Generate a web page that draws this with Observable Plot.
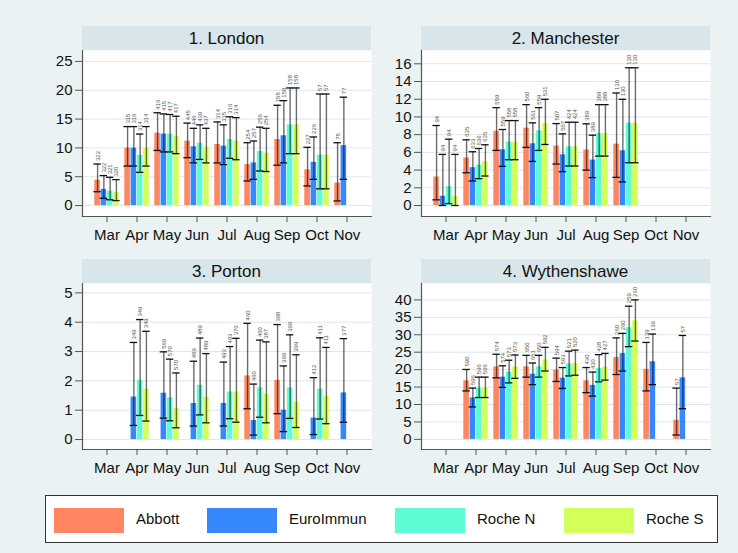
<!DOCTYPE html>
<html>
<head>
<meta charset="utf-8">
<script src="https://cdn.jsdelivr.net/npm/d3@7"></script>
<script src="https://cdn.jsdelivr.net/npm/@observablehq/plot@0.6"></script>
<style>
  html, body { margin: 0; padding: 0; background: #EAF2F3; }
  #chart { position: relative; width: 738px; height: 553px; background: #EAF2F3; font-family: "Liberation Sans", Arial, sans-serif; overflow: hidden; }
  .strip { position: absolute; width: 289px; height: 24px; background: #D8E5EA; text-align: center; line-height: 25px; font-size: 17px; color: #111; }
  .panel { position: absolute; }
  .legend { position: absolute; left: 45px; top: 495px; width: 671px; height: 46px; background: #fff; border: 1.5px solid #333; }
  .sw { position: absolute; top: 12px; width: 70px; height: 25px; }
  .lt { position: absolute; top: 14px; font-size: 15px; color: #111; }
</style>
</head>
<body>
<div id="chart"></div>
<script>
const months = ["Mar", "Apr", "May", "Jun", "Jul", "Aug", "Sep", "Oct", "Nov"];
const assays = ["Abbott", "EuroImmun", "Roche N", "Roche S"];
const colors = ["#FF8660", "#3787FF", "#5EFCD4", "#D3FF59"];

// rows: [month, assay, value, lower CI, upper CI, n]
const london = [
  ["Mar","Abbott",4.4,2.4,7.2,322],["Mar","EuroImmun",2.8,1.27,5.2,322],["Mar","Roche N",2.5,1.0,4.9,321],["Mar","Roche S",2.25,0.86,4.5,320],
  ["Apr","Abbott",9.96,6.85,13.7,315],["Apr","EuroImmun",9.96,6.85,13.7,316],["Apr","Roche N",8.7,5.76,12.4,314],["Apr","Roche S",9.96,6.85,13.7,314],
  ["May","Abbott",12.55,9.56,16.1,416],["May","EuroImmun",12.4,9.3,15.9,415],["May","Roche N",12.4,9.3,15.8,417],["May","Roche S",12.0,9.0,15.5,417],
  ["Jun","Abbott",11.17,8.3,14.3,445],["Jun","EuroImmun",10.2,7.4,13.4,446],["Jun","Roche N",10.8,8.0,14.0,439],["Jun","Roche S",10.1,7.4,13.4,437],
  ["Jul","Abbott",10.6,7.4,14.5,314],["Jul","EuroImmun",10.3,7.1,14.0,315],["Jul","Roche N",11.45,8.2,15.4,316],["Jul","Roche S",11.17,7.95,15.25,314],
  ["Aug","Abbott",7.1,4.26,10.9,254],["Aug","EuroImmun",7.4,4.55,11.2,257],["Aug","Roche N",9.4,6.0,13.6,256],["Aug","Roche S",9.1,5.9,13.4,254],
  ["Sep","Abbott",11.45,7.0,17.4,158],["Sep","EuroImmun",12.1,7.4,18.2,158],["Sep","Roche N",14.0,9.0,20.4,158],["Sep","Roche S",14.0,9.0,20.4,158],
  ["Oct","Abbott",6.2,3.4,10.1,227],["Oct","EuroImmun",7.5,4.55,11.9,226],["Oct","Roche N",8.75,2.9,19.35,57],["Oct","Roche S",8.75,2.9,19.35,57],
  ["Nov","Abbott",3.9,0.8,10.9,78],["Nov","EuroImmun",10.4,4.55,18.8,77]
];
const manchester = [
  ["Mar","Abbott",3.22,0.64,9.03,94],["Mar","EuroImmun",1.05,0,5.77,94],["Mar","Roche N",2.14,0.22,7.49,94],["Mar","Roche S",1.05,0,5.77,94],
  ["Apr","Abbott",5.36,3.7,7.42,635],["Apr","EuroImmun",4.27,2.77,6.07,633],["Apr","Roche N",4.57,3.03,6.44,636],["Apr","Roche S",4.9,3.33,6.86,635],
  ["May","Abbott",8.39,6.22,11.05,559],["May","EuroImmun",6.29,4.42,8.58,559],["May","Roche N",7.16,5.17,9.59,558],["May","Roche S",7.16,5.17,9.59,558],
  ["Jun","Abbott",8.73,6.56,11.39,560],["Jun","EuroImmun",6.97,4.98,9.33,561],["Jun","Roche N",8.43,6.22,11.05,559],["Jun","Roche S",9.25,6.89,11.99,531],
  ["Jul","Abbott",6.71,4.68,9.25,507],["Jul","EuroImmun",5.73,3.82,8.09,507],["Jul","Roche N",6.63,4.46,9.4,424],["Jul","Roche S",6.63,4.46,9.4,424],
  ["Aug","Abbott",6.26,4.0,9.22,389],["Aug","EuroImmun",5.13,3.15,7.94,389],["Aug","Roche N",8.13,5.58,11.39,389],["Aug","Roche S",8.13,5.58,11.39,388],
  ["Sep","Abbott",6.93,3.18,12.7,130],["Sep","EuroImmun",6.18,2.66,11.99,130],["Sep","Roche N",9.29,4.83,15.55,130],["Sep","Roche S",9.29,4.83,15.55,130]
];
const porton = [
  ["Apr","EuroImmun",1.45,0.48,3.31,349],["Apr","Roche N",2.02,0.82,4.09,349],["Apr","Roche S",1.72,0.63,3.69,349],
  ["May","EuroImmun",1.58,0.73,2.99,569],["May","Roche N",1.42,0.64,2.74,570],["May","Roche S",1.06,0.4,2.27,570],
  ["Jun","EuroImmun",1.23,0.46,2.67,489],["Jun","Roche N",1.85,0.84,3.46,489],["Jun","Roche S",1.44,0.57,2.93,489],
  ["Jul","EuroImmun",1.23,0.46,2.64,493],["Jul","Roche N",1.62,0.71,3.17,493],["Jul","Roche S",1.62,0.59,3.45,376],
  ["Aug","Abbott",2.17,1.05,3.96,460],["Aug","EuroImmun",0.65,0.15,1.89,460],["Aug","Roche N",1.76,0.76,3.39,460],["Aug","Roche S",1.54,0.57,3.33,387],
  ["Sep","Abbott",2.02,0.88,3.92,398],["Sep","EuroImmun",1.0,0.27,2.51,399],["Sep","Roche N",1.76,0.72,3.57,399],["Sep","Roche S",1.27,0.41,2.89,399],
  ["Oct","EuroImmun",0.73,0.17,2.11,412],["Oct","Roche N",1.72,0.7,3.47,411],["Oct","Roche S",1.47,0.54,3.14,411],
  ["Nov","EuroImmun",1.59,0.59,3.44,377]
];
const wythenshawe = [
  ["Apr","Abbott",16.8,13.9,20.05,590],["Apr","EuroImmun",11.9,9.3,14.7,596],["Apr","Roche N",14.7,12.0,17.85,596],["Apr","Roche S",14.7,12.0,17.85,596],
  ["May","Abbott",20.8,17.65,24.4,574],["May","EuroImmun",17.85,14.9,21.1,574],["May","Roche N",19.3,16.2,22.7,573],["May","Roche S",20.8,17.5,24.2,573],
  ["Jun","Abbott",20.8,17.85,24.1,650],["Jun","EuroImmun",18.7,15.7,21.9,651],["Jun","Roche N",20.8,17.85,24.1,650],["Jun","Roche S",22.8,19.6,26.4,592],
  ["Jul","Abbott",19.9,16.6,23.3,594],["Jul","EuroImmun",17.55,14.6,20.6,593],["Jul","Roche N",21.6,18.2,25.3,521],["Jul","Roche S",21.8,18.4,25.6,520],
  ["Aug","Abbott",16.8,13.4,20.6,430],["Aug","EuroImmun",15.5,12.4,19.3,430],["Aug","Roche N",20.3,16.5,24.3,428],["Aug","Roche S",20.7,17.0,24.65,427],
  ["Sep","Abbott",23.5,18.6,29.1,260],["Sep","EuroImmun",24.6,19.6,30.4,260],["Sep","Roche N",32.0,26.6,38.2,259],["Sep","Roche S",34.0,28.2,40.0,260],
  ["Oct","Abbott",20.1,13.9,27.8,139],["Oct","EuroImmun",22.25,15.7,30.2,139],
  ["Nov","Abbott",5.47,1.25,14.7,57],["Nov","EuroImmun",17.65,8.8,29.8,57]
];

const londonTicks = [0, 5, 10, 15, 20, 25];
const manchesterTicks = [0, 2, 4, 6, 8, 10, 12, 14, 16];
const portonTicks = [0, 1, 2, 3, 4, 5];
const wythenshaweTicks = [0, 5, 10, 15, 20, 25, 30, 35, 40];

const chart = document.getElementById("chart");
const FW = 289, FH = 166, ML = 45, MR = 6, MB = 36;
const PI = 0.18, PO = 0.312;
const step = FW / (months.length - PI + 2 * PO);
const bw = step * (1 - PI);
const q = bw / 4;
const capIn = (bw - 7.5) / 2;

function panel(rows, title, left, top, yDomain, yTicks) {
  const strip = document.createElement("div");
  strip.className = "strip";
  strip.style.left = left + "px";
  strip.style.top = (top - 24) + "px";
  strip.textContent = title;
  chart.appendChild(strip);

  const marks = [
    Plot.frame({fill: "white", stroke: "none"}),
    Plot.gridY(yTicks, {stroke: "#DDE8EC", strokeOpacity: 1, strokeWidth: 1})
  ];
  assays.forEach((a, k) => {
    const sub = rows.filter(d => d[1] === a);
    const dx = (k - 1.5) * q;
    marks.push(Plot.barY(sub, {x: d => d[0], y: d => d[2], fill: colors[k], dx, insetLeft: (bw - q) / 2 + 0.3, insetRight: (bw - q) / 2 + 0.3}));
  });
  assays.forEach((a, k) => {
    const sub = rows.filter(d => d[1] === a);
    const dx = (k - 1.5) * q;
    marks.push(Plot.ruleX(sub, {x: d => d[0], y1: d => d[3], y2: d => d[4], dx, stroke: "#000", strokeOpacity: 0.58, strokeWidth: 1.4}));
    marks.push(Plot.tickY(sub, {x: d => d[0], y: d => d[3], dx, insetLeft: capIn, insetRight: capIn, stroke: "#111", strokeWidth: 1.3}));
    marks.push(Plot.tickY(sub, {x: d => d[0], y: d => d[4], dx, insetLeft: capIn, insetRight: capIn, stroke: "#111", strokeWidth: 1.3}));
    marks.push(Plot.text(sub, {x: d => d[0], y: d => d[4], text: d => String(d[5]), rotate: -90, textAnchor: "start", lineAnchor: "middle", dx, dy: -3, fontSize: 6, fill: "#555"}));
  });
  marks.push(Plot.axisY(yTicks, {tickSize: 7, tickPadding: 3, fontSize: 15, stroke: "#555", fill: "#111", label: null}));
  marks.push(Plot.axisX({tickSize: 6, tickPadding: 7, fontSize: 15, stroke: "#555", fill: "#111", label: null}));
  marks.push(Plot.frame({anchor: "left", stroke: "#555", strokeWidth: 1.2}));
  marks.push(Plot.frame({anchor: "bottom", stroke: "#555", strokeWidth: 1.2}));

  const svg = Plot.plot({
    width: ML + FW + MR,
    height: FH + MB,
    marginLeft: ML, marginRight: MR, marginTop: 0, marginBottom: MB,
    x: {type: "band", domain: months, paddingInner: PI, paddingOuter: PO, axis: null},
    y: {domain: yDomain, axis: null},
    style: {background: "transparent", fontFamily: "'Liberation Sans', Arial, sans-serif", overflow: "visible"},
    marks
  });
  const wrap = document.createElement("div");
  wrap.className = "panel";
  wrap.style.left = (left - ML) + "px";
  wrap.style.top = top + "px";
  wrap.appendChild(svg);
  chart.appendChild(wrap);
}

panel(london, "1. London", 82, 50, [-1.9, 26.9], londonTicks);
panel(manchester, "2. Manchester", 421, 50, [-1.24, 17.5], manchesterTicks);
panel(porton, "3. Porton", 82, 283, [-0.34, 5.32], portonTicks);
panel(wythenshawe, "4. Wythenshawe", 421, 283, [-2.9, 44.7], wythenshaweTicks);

// legend
const legend = document.createElement("div");
legend.className = "legend";
const swLeft = [8, 161, 349, 518];
const txLeft = [90, 243, 431, 600];
assays.forEach((a, k) => {
  const sw = document.createElement("div");
  sw.className = "sw";
  sw.style.left = swLeft[k] + "px";
  sw.style.background = colors[k];
  legend.appendChild(sw);
  const t = document.createElement("div");
  t.className = "lt";
  t.style.left = txLeft[k] + "px";
  t.textContent = a;
  legend.appendChild(t);
});
chart.appendChild(legend);
</script>
</body>
</html>
